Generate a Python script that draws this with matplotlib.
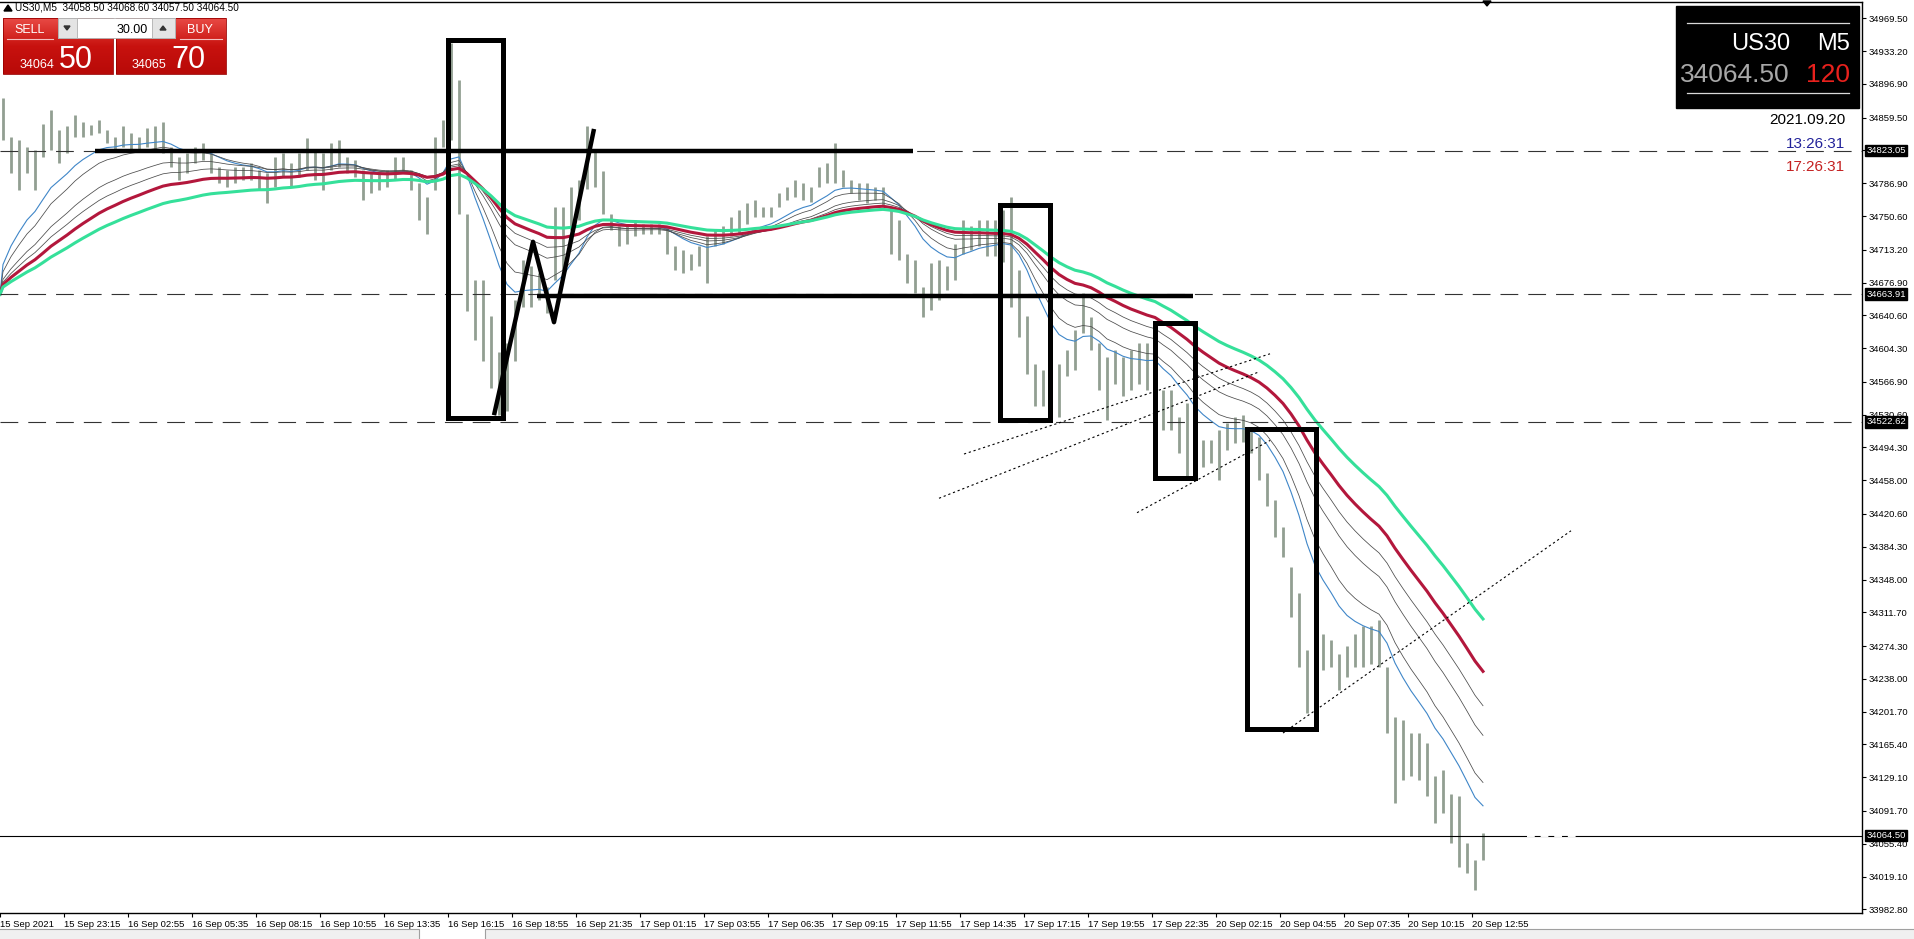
import numpy as np
import pandas as pd
import matplotlib
matplotlib.use("Agg")
import matplotlib.pyplot as plt
from matplotlib.patches import Rectangle, Polygon
from matplotlib.colors import LinearSegmentedColormap

W, H, DPI = 1914, 939, 100
plt.rcParams["font.family"] = ["Liberation Sans", "DejaVu Sans"]

# ---- price data: high / low of each block of 4 M5 bars ----
bar_high = [
    34881, 34838, 34835, 34827, 34824, 34853, 34868, 34846, 34850, 34862,
    34855, 34851, 34857, 34846, 34838, 34850, 34842, 34838, 34848, 34850,
    34855, 34827, 34816, 34820, 34827, 34831, 34820, 34805, 34801, 34805,
    34805, 34809, 34801, 34798, 34816, 34820, 34809, 34820, 34837, 34824,
    34820, 34831, 34835, 34816, 34813, 34801, 34798, 34798, 34801, 34816,
    34816, 34801, 34787, 34772, 34838, 34857, 34942, 34901, 34753, 34680,
    34680, 34640, 34600, 34610, 34658, 34702, 34695, 34687, 34672, 34761,
    34761, 34783, 34790, 34850, 34824, 34800, 34753, 34739, 34742, 34746,
    34742, 34742, 34742, 34739, 34717, 34713, 34709, 34717, 34728, 34735,
    34739, 34750, 34757, 34765, 34768, 34761, 34761, 34776, 34783, 34790,
    34787, 34783, 34805, 34809, 34831, 34801, 34790, 34787, 34787, 34783,
    34783, 34761, 34746, 34709, 34702, 34672, 34698, 34702, 34695, 34720,
    34746, 34739, 34746, 34746, 34746, 34757, 34772, 34691, 34640, 34587,
    34580, 34558, 34587, 34602, 34624, 34665, 34639, 34610, 34595, 34602,
    34595, 34602, 34610, 34610, 34628, 34558, 34558, 34528, 34543, 34491,
    34502, 34502, 34514, 34521, 34528, 34530, 34517, 34506, 34466, 34436,
    34406, 34362, 34333, 34270, 34270, 34288, 34281, 34266, 34274, 34288,
    34296, 34296, 34303, 34251, 34196, 34192, 34178, 34178, 34167, 34130,
    34137, 34111, 34108, 34056, 34037, 34067]
bar_low = [
    34835, 34798, 34779, 34798, 34779, 34816, 34824, 34809, 34820, 34838,
    34838, 34840, 34842, 34831, 34824, 34827, 34824, 34824, 34827, 34824,
    34820, 34805, 34790, 34798, 34809, 34813, 34798, 34787, 34783, 34787,
    34790, 34790, 34779, 34765, 34783, 34794, 34783, 34794, 34801, 34790,
    34779, 34801, 34805, 34798, 34794, 34768, 34776, 34779, 34783, 34790,
    34798, 34779, 34746, 34731, 34779, 34827, 34835, 34753, 34645, 34613,
    34590, 34560, 34530, 34535, 34590, 34650, 34650, 34658, 34643, 34680,
    34691, 34735, 34746, 34780, 34783, 34753, 34735, 34717, 34720, 34728,
    34731, 34731, 34731, 34709, 34691, 34687, 34691, 34695, 34676, 34717,
    34720, 34728, 34731, 34742, 34750, 34750, 34750, 34761, 34768, 34772,
    34768, 34766, 34783, 34787, 34787, 34783, 34776, 34768, 34765, 34768,
    34761, 34709, 34702, 34676, 34665, 34639, 34647, 34658, 34669, 34680,
    34709, 34713, 34717, 34706, 34706, 34700, 34650, 34617, 34576, 34540,
    34540, 34525, 34528, 34573, 34580, 34621, 34602, 34558, 34525, 34565,
    34551, 34558, 34565, 34558, 34558, 34514, 34514, 34488, 34462, 34462,
    34473, 34477, 34458, 34491, 34499, 34500, 34488, 34458, 34429, 34395,
    34373, 34307, 34251, 34200, 34222, 34248, 34251, 34226, 34240, 34251,
    34251, 34255, 34251, 34178, 34100, 34126, 34130, 34126, 34108, 34078,
    34089, 34056, 34030, 34023, 34004, 34037]
bars_per_block = 4

# exponential moving averages (periods in M5 bars); level before the left edge
ma_periods = [43, 58, 90, 112, 140, 190]
ma_colors = ["#3f86c8", "#4a4a4a", "#4a4a4a", "#4a4a4a", "#b3173c", "#35e09a"]
ma_widths = [0.8, 0.55, 0.55, 0.55, 2.2, 2.2]
ma_seed = 34663.91

# axis
x_labels = ["15 Sep 2021", "15 Sep 23:15", "16 Sep 02:55", "16 Sep 05:35", "16 Sep 08:15",
            "16 Sep 10:55", "16 Sep 13:35", "16 Sep 16:15", "16 Sep 18:55", "16 Sep 21:35",
            "17 Sep 01:15", "17 Sep 03:55", "17 Sep 06:35", "17 Sep 09:15", "17 Sep 11:55",
            "17 Sep 14:35", "17 Sep 17:15", "17 Sep 19:55", "17 Sep 22:35", "20 Sep 02:15",
            "20 Sep 04:55", "20 Sep 07:35", "20 Sep 10:15", "20 Sep 12:55"]
bars_per_label = 32
y_ticks = [34969.50, 34933.20, 34896.90, 34859.50, 34823.20, 34786.90, 34750.60, 34713.20,
           34676.90, 34640.60, 34604.30, 34566.90, 34530.60, 34494.30, 34458.00, 34420.60,
           34384.30, 34348.00, 34311.70, 34274.30, 34238.00, 34201.70, 34165.40, 34129.10,
           34091.70, 34055.40, 34019.10, 33982.80]
y_range = (33978.7, 34987.6)
x_range = (0, 931)

# drawn objects (bar index, price)
levels = [34823.05, 34663.91, 34522.62]
bid = 34064.50
bid_gap = (763.5, 788.5)
thick_lines = [[(47.5, 34823), (456.5, 34823)],
               [(268.5, 34662), (596.5, 34662)],
               [(247, 34530), (266.5, 34722), (277, 34633), (297, 34847)]]
boxes = [(224, 251.5, 34527, 34945), (500, 525, 34525, 34763),
         (577.5, 597.5, 34460, 34632), (623.5, 658, 34183, 34515)]
dotted = [[(482, 34487), (635, 34598)],
          [(469.5, 34438), (629.5, 34578)],
          [(568.5, 34422), (635, 34502)],
          [(641.5, 34178), (785.5, 34402)]]

# header
symbol, tf = "US30", "M5"
ohlc = ["34058.50", "34068.60", "34057.50", "34064.50"]
sell_big, sell_small = "50", "34064"
buy_big, buy_small = "70", "34065"
lot = "30.00"
spread = "120"
date_str, t_local, t_server = "2021.09.20", "13:26:31", "17:26:31"

# ------------------------------------------------------------------
fig = plt.figure(figsize=(W / DPI, H / DPI), dpi=DPI)
fig.patch.set_facecolor("white")
ax = fig.add_axes([0, (H - 913) / H, 1862 / W, (913 - 2) / H])
ax.set_xlim(*x_range)
ax.set_ylim(*y_range)

hi = np.array(bar_high, float)
lo = np.array(bar_low, float)
centers = np.arange(len(hi)) * bars_per_block + (bars_per_block - 1) / 2
ax.vlines(centers, lo, hi, color="#929f92", linewidth=2.0, zorder=2)

mids = (hi + lo) / 2
ma_x = np.concatenate([[0], centers])
for n, c, lw in zip(ma_periods, ma_colors, ma_widths):
    a = 1 - (1 - 2 / (n + 1)) ** bars_per_block
    ema = pd.Series(np.concatenate([[ma_seed], mids])).ewm(alpha=a, adjust=False).mean()
    ax.plot(ma_x, ema, color=c, linewidth=lw, zorder=3)

for lv in levels:
    ax.axhline(lv, color="#333333", linewidth=0.8, dashes=(16, 9), zorder=4)
ax.axhline(bid, color="black", linewidth=0.8, zorder=4)
ax.plot(bid_gap, [bid, bid], color="white", linewidth=1.4, dashes=(4, 3), zorder=4)

for pts in thick_lines:
    xs, ys = zip(*pts)
    ax.plot(xs, ys, color="black", linewidth=3.2, solid_capstyle="butt", zorder=5)
for x0, x1, y0, y1 in boxes:
    ax.add_patch(Rectangle((x0, y0), x1 - x0, y1 - y0, fill=False, edgecolor="black",
                           linewidth=3.6, zorder=5))
for pts in dotted:
    xs, ys = zip(*pts)
    ax.plot(xs, ys, color="black", linewidth=0.8, dashes=(2, 2.5), zorder=5)

# axes styling
ax.yaxis.tick_right()
ax.set_yticks(y_ticks)
ax.set_yticklabels([f"{v:.2f}" for v in y_ticks])
ax.set_xticks([i * bars_per_label for i in range(len(x_labels))])
ax.set_xticklabels(x_labels)
for lbl in ax.get_xticklabels():
    lbl.set_ha("left")
ax.tick_params(axis="y", length=3, width=0.8, pad=2, labelsize=6.8, colors="black")
ax.tick_params(axis="x", length=3, width=0.8, pad=2, labelsize=6.8, colors="black")
ax.spines["left"].set_visible(False)
for s in ["top", "right", "bottom"]:
    ax.spines[s].set_linewidth(1.0)

for lv in levels + [bid]:
    ax.annotate(f"{lv:.2f}", xy=(1.0, lv), xycoords=("axes fraction", "data"),
                xytext=(3, 0), textcoords="offset points", ha="left", va="center",
                fontsize=6.8, color="white", annotation_clip=False, zorder=20,
                bbox=dict(boxstyle="square,pad=0.15", fc="black", ec="black"))

# ---- overlay in pixel coordinates ----
ov = fig.add_axes([0, 0, 1, 1], zorder=10)
ov.set_xlim(0, W)
ov.set_ylim(H, 0)
ov.axis("off")
ov.patch.set_alpha(0)

# header line
ov.add_patch(Polygon([(4, 11), (8, 5), (12, 11)], closed=True, color="black"))
ov.text(15, 11, f"{symbol},{tf}  " + " ".join(ohlc), fontsize=7.2, va="baseline", ha="left")

# trade panel
grad = np.linspace(0, 1, 64).reshape(-1, 1)
red_cm = LinearSegmentedColormap.from_list("btn", ["#e84a44", "#c8120f", "#b80a08"])
for bx0, bx1 in [(3, 113), (116, 226)]:
    ov.imshow(grad, cmap=red_cm, extent=(bx0, bx1, 74, 18), aspect="auto", zorder=1)
    ov.add_patch(Rectangle((bx0, 18), bx1 - bx0, 56, fill=False, ec="#9a0000", lw=0.6, zorder=2))
ov.plot([7, 53], [39, 39], color="#f4c0c0", lw=0.8, zorder=3)
ov.plot([180, 222], [39, 39], color="#f4c0c0", lw=0.8, zorder=3)
ov.text(30, 33, "SELL", color="white", fontsize=9, ha="center", va="baseline", zorder=3)
ov.text(200, 33, "BUY", color="white", fontsize=9, ha="center", va="baseline", zorder=3)
ov.add_patch(Rectangle((58, 18), 117, 20, fc="white", ec="#b0b0b0", lw=0.6, zorder=3))
ov.add_patch(Rectangle((58, 18), 19, 20, fc="#e4e4e4", ec="#b0b0b0", lw=0.6, zorder=3))
ov.add_patch(Rectangle((152, 18), 23, 20, fc="#e4e4e4", ec="#b0b0b0", lw=0.6, zorder=3))
ov.add_patch(Polygon([(64, 26), (70, 26), (67, 30)], closed=True, color="#333333", zorder=4))
ov.add_patch(Polygon([(160, 30), (166, 30), (163, 26)], closed=True, color="#333333", zorder=4))
ov.text(148, 33, lot, fontsize=9, ha="right", va="baseline", zorder=4)
ov.text(20, 68, sell_small, color="white", fontsize=9, ha="left", va="baseline", zorder=3)
ov.text(59, 68, sell_big, color="white", fontsize=22, ha="left", va="baseline", zorder=3)
ov.text(132, 68, buy_small, color="white", fontsize=9, ha="left", va="baseline", zorder=3)
ov.text(171, 68, buy_big, color="white", fontsize=22, ha="left", va="baseline", zorder=3)

# symbol info box
ov.add_patch(Rectangle((1676, 6), 183, 102, fc="black", ec="black", zorder=1))
ov.plot([1687, 1849], [23, 23], color="#d8d8d8", lw=0.9, zorder=2)
ov.plot([1687, 1849], [93, 93], color="#d8d8d8", lw=0.9, zorder=2)
ov.text(1790, 50, symbol, color="white", fontsize=17, ha="right", va="baseline", zorder=2)
ov.text(1850, 50, tf, color="white", fontsize=17, ha="right", va="baseline", zorder=2)
ov.text(1790, 82, f"{bid:.2f}", color="#a8a8a8", fontsize=19, ha="right", va="baseline", zorder=2)
ov.text(1850, 82, spread, color="#e8211d", fontsize=19, ha="right", va="baseline", zorder=2)
ov.text(1845, 124, date_str, color="black", fontsize=11, ha="right", va="baseline")
ov.text(1845, 148, t_local, color="#22229a", fontsize=11, ha="right", va="baseline")
ov.text(1845, 171, t_server, color="#c42020", fontsize=11, ha="right", va="baseline")

# chart shift marker
ov.add_patch(Polygon([(1483, 1), (1491, 1), (1487, 6)], closed=True, color="black"))

# chart tab bar at the bottom
ov.add_patch(Rectangle((0, 929), W, 10, fc="#f0f0f0", ec="none", zorder=1))
ov.add_patch(Rectangle((419, 929), 66, 10, fc="white", ec="none", zorder=2))
ov.plot([0, 419, 419], [929, 929, 939], color="#a0a0a0", lw=0.8, zorder=3)
ov.plot([485, 485, W], [939, 929, 929], color="#a0a0a0", lw=0.8, zorder=3)

fig.savefig("out.png", dpi=DPI)
